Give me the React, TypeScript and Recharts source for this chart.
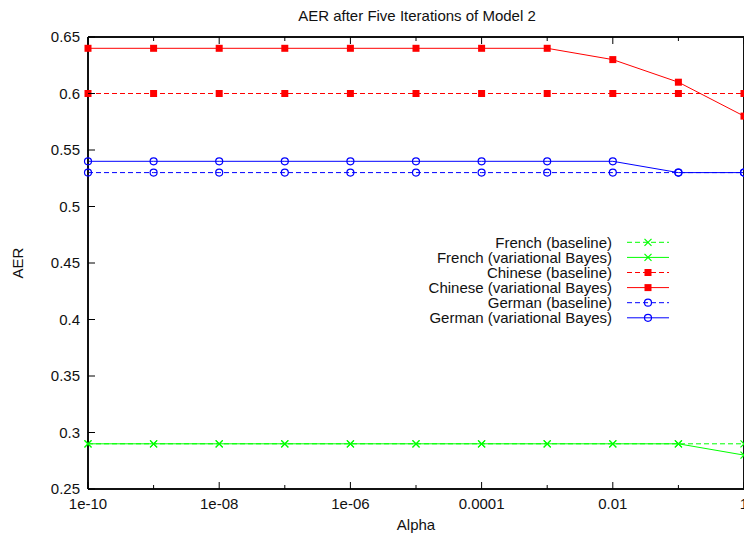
import { LineChart, Line, XAxis, YAxis, Legend, Customized } from "recharts";

// alpha values (log axis) and AER for each language / model
const alphas = [1e-10, 1e-9, 1e-8, 1e-7, 1e-6, 1e-5, 1e-4, 1e-3, 1e-2, 1e-1, 1];
const xTickLabels = ["1e-10", "", "1e-08", "", "1e-06", "", "0.0001", "", "0.01", "", "1"];
const yTicks = [0.25, 0.3, 0.35, 0.4, 0.45, 0.5, 0.55, 0.6, 0.65];

const frenchBaseline = [0.29, 0.29, 0.29, 0.29, 0.29, 0.29, 0.29, 0.29, 0.29, 0.29, 0.29];
const frenchVB = [0.29, 0.29, 0.29, 0.29, 0.29, 0.29, 0.29, 0.29, 0.29, 0.29, 0.28];
const chineseBaseline = [0.6, 0.6, 0.6, 0.6, 0.6, 0.6, 0.6, 0.6, 0.6, 0.6, 0.6];
const chineseVB = [0.64, 0.64, 0.64, 0.64, 0.64, 0.64, 0.64, 0.64, 0.63, 0.61, 0.58];
const germanBaseline = [0.53, 0.53, 0.53, 0.53, 0.53, 0.53, 0.53, 0.53, 0.53, 0.53, 0.53];
const germanVB = [0.54, 0.54, 0.54, 0.54, 0.54, 0.54, 0.54, 0.54, 0.54, 0.53, 0.53];

const rows = alphas.map((alpha, i) => ({
  alpha,
  frBase: frenchBaseline[i],
  frVB: frenchVB[i],
  zhBase: chineseBaseline[i],
  zhVB: chineseVB[i],
  deBase: germanBaseline[i],
  deVB: germanVB[i],
}));

const GREEN = "#00ff00";
const RED = "#ff0000";
const BLUE = "#0000ff";
const FONT = "'Liberation Sans', Arial, sans-serif";
const FS = 15;
const DASH = "5 3";

type Marker = "cross" | "square" | "circle";

const series: { key: string; name: string; color: string; dashed: boolean; marker: Marker }[] = [
  { key: "frBase", name: "French (baseline)", color: GREEN, dashed: true, marker: "cross" },
  { key: "frVB", name: "French (variational Bayes)", color: GREEN, dashed: false, marker: "cross" },
  { key: "zhBase", name: "Chinese (baseline)", color: RED, dashed: true, marker: "square" },
  { key: "zhVB", name: "Chinese (variational Bayes)", color: RED, dashed: false, marker: "square" },
  { key: "deBase", name: "German (baseline)", color: BLUE, dashed: true, marker: "circle" },
  { key: "deVB", name: "German (variational Bayes)", color: BLUE, dashed: false, marker: "circle" },
];

function markerShape(kind: Marker, cx: number, cy: number, color: string, key?: string) {
  if (kind === "square") {
    return <rect key={key} x={cx - 3.5} y={cy - 3.5} width={7} height={7} fill={color} />;
  }
  if (kind === "circle") {
    return <circle key={key} cx={cx} cy={cy} r={3.5} fill="none" stroke={color} strokeWidth={1.2} />;
  }
  const d = 3.5;
  return (
    <path
      key={key}
      d={`M${cx - d},${cy - d}L${cx + d},${cy + d}M${cx - d},${cy + d}L${cx + d},${cy - d}`}
      stroke={color}
      strokeWidth={1.2}
      fill="none"
    />
  );
}

const isMajor = (v: number) => Math.round(Math.log10(v)) % 2 === 0;

function BottomTick(props: any) {
  const { x, y, payload, index } = props;
  const len = isMajor(payload.value) ? 7 : 4;
  const label = xTickLabels[index];
  return (
    <g>
      <line x1={x} x2={x} y1={y} y2={y - len} stroke="#000" />
      {label ? (
        <text x={x} y={y + 20} textAnchor="middle" fontFamily={FONT} fontSize={FS} fill="#111">
          {label}
        </text>
      ) : null}
    </g>
  );
}

function TopTick(props: any) {
  const { x, y, payload } = props;
  const len = isMajor(payload.value) ? 7 : 4;
  return <line x1={x} x2={x} y1={y} y2={y + len} stroke="#000" />;
}

function LeftTick(props: any) {
  const { x, y, payload } = props;
  return (
    <g>
      <line x1={x} x2={x + 7} y1={y} y2={y} stroke="#000" />
      <text x={x - 8} y={y} dy="0.35em" textAnchor="end" fontFamily={FONT} fontSize={FS} fill="#111">
        {String(+Number(payload.value).toFixed(2))}
      </text>
    </g>
  );
}

function RightTick(props: any) {
  const { x, y } = props;
  return <line x1={x} x2={x - 7} y1={y} y2={y} stroke="#000" />;
}

function KeyBox() {
  const rowY = (i: number) => 12.3 + i * 15.1;
  return (
    <svg width={280} height={100} style={{ display: "block" }}>
      {series.map((s, i) => (
        <g key={s.key}>
          <text
            x={212}
            y={rowY(i)}
            dy="0.35em"
            textAnchor="end"
            fontFamily={FONT}
            fontSize={FS}
            fill="#111"
          >
            {s.name}
          </text>
          <line
            x1={227}
            x2={269}
            y1={rowY(i)}
            y2={rowY(i)}
            stroke={s.color}
            strokeDasharray={s.dashed ? DASH : undefined}
          />
          {markerShape(s.marker, 248, rowY(i), s.color)}
        </g>
      ))}
    </svg>
  );
}

function Titles() {
  return (
    <g fontFamily={FONT} fontSize={FS} fill="#111">
      <text x={417} y={21} textAnchor="middle">
        AER after Five Iterations of Model 2
      </text>
      <text x={416} y={530} textAnchor="middle">
        Alpha
      </text>
      <text x={23} y={263} textAnchor="middle" transform="rotate(-90 23 263)">
        AER
      </text>
    </g>
  );
}

const frame = { stroke: "#111", strokeWidth: 2 };

// plot box: x 88..744, y 37..489
export default function App() {
  return (
    <div
      style={{
        position: "absolute",
        left: 0,
        top: 0,
        width: 744,
        height: 539,
        overflow: "hidden",
        background: "#fff",
      }}
    >
      <LineChart width={760} height={539} data={rows} margin={{ top: 17, right: 6, bottom: 20, left: 58 }}>
        <XAxis
          xAxisId="bottom"
          type="number"
          dataKey="alpha"
          scale="log"
          domain={[1e-10, 1]}
          ticks={alphas}
          interval={0}
          height={30}
          tickSize={0}
          tickMargin={0}
          tickLine={false}
          axisLine={frame}
          tick={BottomTick}
        />
        <XAxis
          xAxisId="top"
          orientation="top"
          type="number"
          dataKey="alpha"
          scale="log"
          domain={[1e-10, 1]}
          ticks={alphas}
          interval={0}
          height={20}
          tickSize={0}
          tickMargin={0}
          tickLine={false}
          axisLine={frame}
          tick={TopTick}
        />
        <YAxis
          yAxisId="left"
          type="number"
          domain={[0.25, 0.65]}
          ticks={yTicks}
          interval={0}
          width={30}
          tickSize={0}
          tickMargin={0}
          tickLine={false}
          axisLine={frame}
          tick={LeftTick}
        />
        <YAxis
          yAxisId="right"
          orientation="right"
          type="number"
          domain={[0.25, 0.65]}
          ticks={yTicks}
          interval={0}
          width={10}
          tickSize={0}
          tickMargin={0}
          tickLine={false}
          axisLine={frame}
          tick={RightTick}
        />
        {series.map((s) => (
          <Line
            key={s.key}
            xAxisId="bottom"
            yAxisId="left"
            type="linear"
            dataKey={s.key}
            name={s.name}
            stroke={s.color}
            strokeWidth={1}
            strokeDasharray={s.dashed ? DASH : undefined}
            dot={(p: any) => markerShape(s.marker, p.cx, p.cy, s.color, `${s.key}-${p.index}`)}
            activeDot={false}
            isAnimationActive={false}
          />
        ))}
        <Legend
          layout="horizontal"
          align="center"
          verticalAlign="middle"
          wrapperStyle={{ left: 400, top: 230, width: 280, height: 100 }}
          content={() => <KeyBox />}
        />
        <Customized component={Titles} />
      </LineChart>
    </div>
  );
}
